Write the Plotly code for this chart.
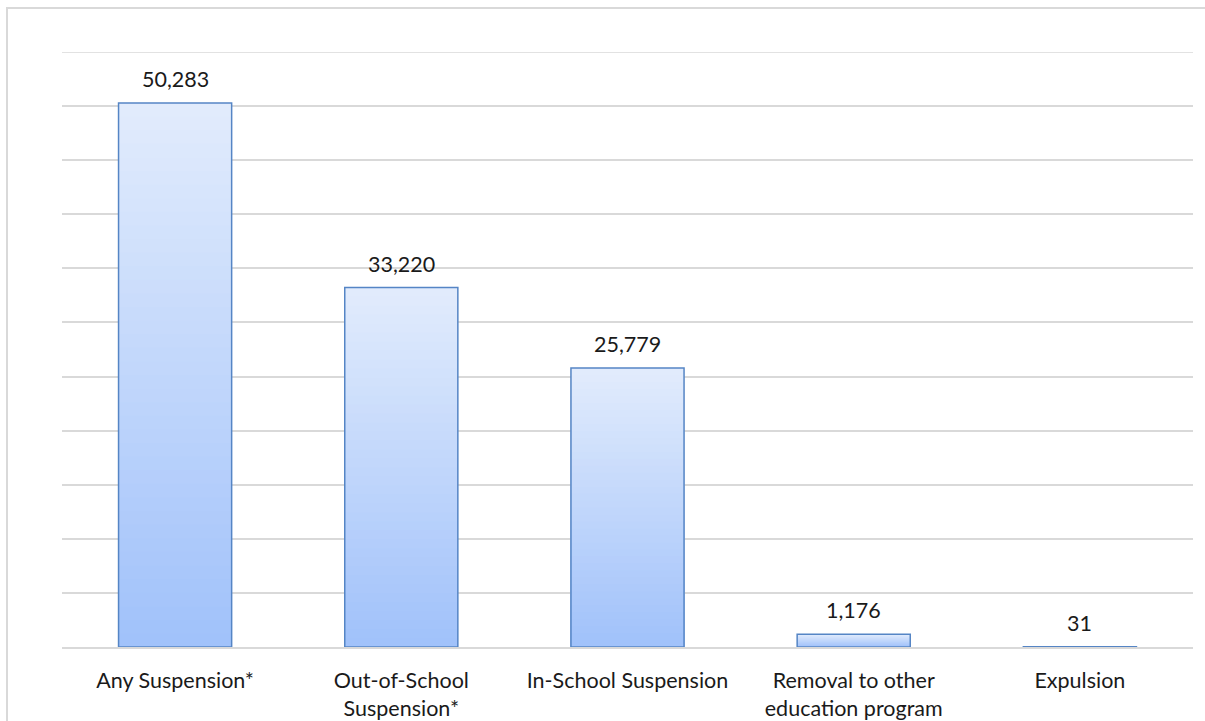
import plotly.graph_objects as go

categories = [
    "Any Suspension*",
    "Out-of-School<br>Suspension*",
    "In-School Suspension",
    "Removal to other<br>education program",
    "Expulsion",
]
counts = [50283, 33220, 25779, 1176, 31]

# vertical gradient colours (bottom -> top of each bar)
BOTTOM_RGB = (160, 193, 250)
TOP_RGB = (226, 236, 252)
OUTLINE = "#5585c5"
GRID = "#d9d9d9"
FONT = "Lato, 'Open Sans', Arial, sans-serif"
TEXT = "#1a1a1a"

Y_MAX = 55000
LEVELS = 40

fig = go.Figure()

# Each bar gets a vertical gradient: a stack of overlaid bars of decreasing
# height, each a little darker than the previous one.
for j in range(LEVELS, 0, -1):
    frac = j / LEVELS
    t = (j - 0.5) / LEVELS
    rgb = tuple(round(b + (tp - b) * t) for b, tp in zip(BOTTOM_RGB, TOP_RGB))
    fig.add_trace(go.Bar(
        x=categories,
        y=[v * frac for v in counts],
        width=0.5,
        marker=dict(color=f"rgb{rgb}", line=dict(width=0)),
        hoverinfo="skip",
        showlegend=False,
    ))

# outline of each bar
fig.add_trace(go.Bar(
    x=categories,
    y=counts,
    width=0.5,
    marker=dict(color="rgba(0,0,0,0)", line=dict(color=OUTLINE, width=1.5)),
    showlegend=False,
    hovertemplate="%{x}: %{y:,}<extra></extra>",
))

# value labels above the bars
for cat, v in zip(categories, counts):
    fig.add_annotation(
        x=cat, y=v, text=f"{v:,}", showarrow=False,
        yanchor="bottom", yshift=9,
        font=dict(family=FONT, size=21.5, color=TEXT),
    )

# plot area geometry in pixels (for the outer frame)
L, R, T, B = 62, 12, 52, 74
W, H = 1205, 721
pw, ph = W - L - R, H - T - B
fx0 = (7 - L) / pw
fx1 = (W + 60 - L) / pw
fy0 = (-B - 60) / ph
fy1 = (H - 8 - B) / ph

# chart frame: only its left and top edges fall inside the page
fig.add_shape(type="rect", xref="paper", yref="paper",
              x0=fx0, x1=fx1, y0=fy0, y1=fy1,
              fillcolor="rgba(0,0,0,0)",
              line=dict(color=GRID, width=2), layer="below")
# gridline at the top of the value axis
fig.add_shape(type="line", xref="paper", yref="y",
              x0=0, x1=1, y0=Y_MAX, y1=Y_MAX,
              line=dict(color=GRID, width=1.5), layer="between")

fig.update_layout(
    width=W, height=H,
    margin=dict(l=L, r=R, t=T, b=B),
    paper_bgcolor="white",
    plot_bgcolor="white",
    barmode="overlay",
    bargap=0.5,
    font=dict(family=FONT, size=21.5, color=TEXT),
    xaxis=dict(
        type="category",
        showgrid=False,
        showline=True, linecolor=GRID, linewidth=1.5,
        ticks="", ticklabelstandoff=13,
        tickfont=dict(family=FONT, size=21.5, color=TEXT),
        automargin=False,
        fixedrange=True,
    ),
    yaxis=dict(
        range=[0, Y_MAX],
        tickmode="linear", tick0=0, dtick=5000,
        showgrid=True, gridcolor=GRID, gridwidth=1.5,
        showticklabels=False,
        zeroline=False,
        automargin=False,
        fixedrange=True,
    ),
)

fig.write_html("out.html")
